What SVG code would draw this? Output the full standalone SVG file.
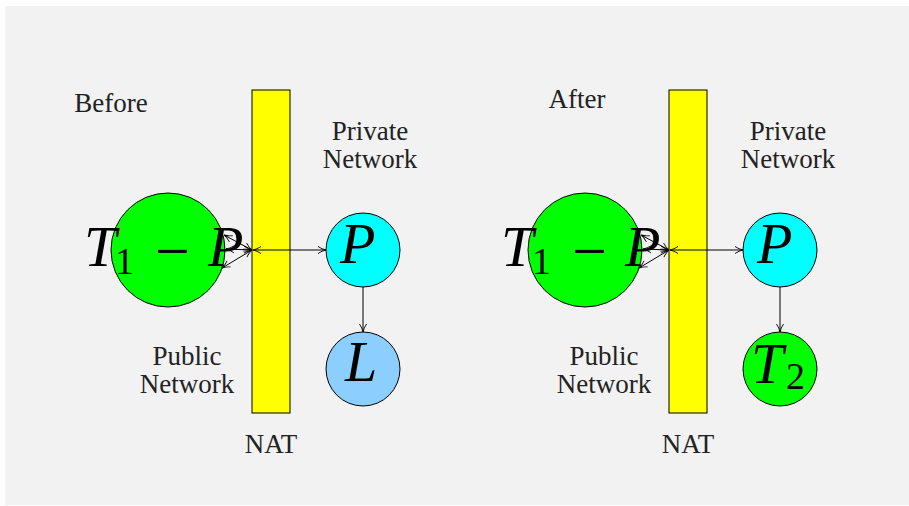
<svg xmlns="http://www.w3.org/2000/svg" width="909" height="506" viewBox="0 0 909 506">
<defs>
<style>
.lbl{font-family:"Liberation Serif","DejaVu Serif",serif;font-size:27px;fill:#222;text-anchor:middle}
.m{font-family:"Liberation Serif","DejaVu Serif",serif;font-style:italic;font-size:58px;fill:#000}
.n{font-family:"Liberation Serif","DejaVu Serif",serif;font-size:38px;fill:#000}
.mi{font-family:"Liberation Serif","DejaVu Serif",serif;font-size:62px;fill:#000}
.node{stroke:#000;stroke-width:1}
.c{stroke:#000;stroke-width:1;fill:none;marker-end:url(#ah);marker-start:url(#as)}
.c1{stroke:#000;stroke-width:1;fill:none;marker-end:url(#ah)}
</style>
<marker id="ah" viewBox="0 0 10 10" refX="9" refY="5" markerWidth="10" markerHeight="10" markerUnits="userSpaceOnUse" orient="auto">
<path d="M1,1.5 Q5,4.2 9,5 Q5,5.8 1,8.5" fill="none" stroke="#000" stroke-width="0.9"/>
</marker>
<marker id="as" viewBox="0 0 10 10" refX="1" refY="5" markerWidth="10" markerHeight="10" markerUnits="userSpaceOnUse" orient="auto">
<path d="M9,1.5 Q5,4.2 1,5 Q5,5.8 9,8.5" fill="none" stroke="#000" stroke-width="0.9"/>
</marker>
</defs>
<rect x="5" y="6" width="904" height="499" fill="#f2f2f2"/>

<g id="before">
<text class="lbl" x="111" y="112">Before</text>
<g id="nat1"><rect class="node" x="252" y="90" width="38" height="323" fill="#ffff00"/><text class="lbl" x="271" y="453">NAT</text></g>
<g id="t1p1"><circle class="node" cx="168" cy="250" r="57" fill="#00ff00"/>
<text class="m" x="84" y="266">T</text><text class="n" x="115" y="274">1</text><text class="mi" x="155" y="272">−</text><text class="m" x="208" y="266">P</text></g>
<g id="p1"><circle class="node" cx="363" cy="250" r="37" fill="#00ffff"/><text class="m" x="340" y="263">P</text></g>
<g id="l1"><circle class="node" cx="363" cy="369" r="37" fill="#8ccfff"/><text class="m" x="345" y="381">L</text></g>
<text class="lbl" x="370" y="140">Private</text><text class="lbl" x="370" y="168">Network</text>
<text class="lbl" x="187" y="365">Public</text><text class="lbl" x="187" y="393">Network</text>
</g>

<g id="after">
<text class="lbl" x="577" y="108">After</text>
<g id="nat2"><rect class="node" x="669" y="90" width="38" height="323" fill="#ffff00"/><text class="lbl" x="688" y="453">NAT</text></g>
<g id="t1p2"><circle class="node" cx="585" cy="250" r="57" fill="#00ff00"/>
<text class="m" x="501" y="266">T</text><text class="n" x="532" y="274">1</text><text class="mi" x="572" y="272">−</text><text class="m" x="625" y="266">P</text></g>
<g id="p2"><circle class="node" cx="780" cy="250" r="37" fill="#00ffff"/><text class="m" x="757" y="263">P</text></g>
<g id="t22"><circle class="node" cx="780" cy="369" r="37" fill="#00ff00"/><text class="m" x="751" y="383">T</text><text class="n" x="786" y="389">2</text></g>
<text class="lbl" x="788" y="140">Private</text><text class="lbl" x="788" y="168">Network</text>
<text class="lbl" x="604" y="365">Public</text><text class="lbl" x="604" y="393">Network</text>
</g>

<g id="connectors">
<line class="c" x1="253" y1="250" x2="326" y2="250"/>
<line class="c" x1="224" y1="235" x2="252" y2="250"/>
<line class="c" x1="226" y1="249" x2="252" y2="250"/>
<line class="c" x1="222" y1="268" x2="252" y2="250"/>
<line class="c1" x1="363" y1="287" x2="363" y2="332"/>
<line class="c" x1="670" y1="250" x2="743" y2="250"/>
<line class="c" x1="641" y1="235" x2="669" y2="250"/>
<line class="c" x1="643" y1="249" x2="669" y2="250"/>
<line class="c" x1="639" y1="268" x2="669" y2="250"/>
<line class="c1" x1="780" y1="287" x2="780" y2="332"/>
</g>
</svg>
